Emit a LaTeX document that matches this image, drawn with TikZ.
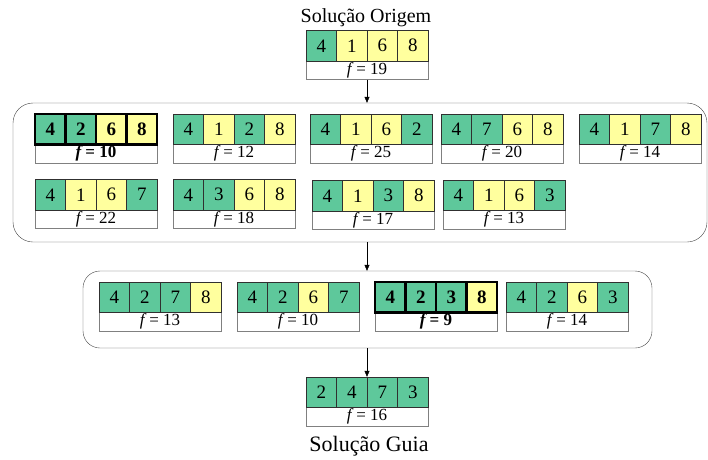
\documentclass[tikz,border=0pt]{standalone}
\usepackage{fontspec}
\setmainfont{Liberation Serif}
\usetikzlibrary{arrows.meta,positioning,calc}

\definecolor{verde}{HTML}{5EC89B}
\definecolor{amar}{HTML}{FFFF9E}
\definecolor{borda}{HTML}{303030}
\definecolor{cinza}{HTML}{808080}
\definecolor{darkgrey}{HTML}{444444}

\tikzset{
  cell/.style={
    rectangle, draw=borda, thin, minimum width=30.5pt, minimum height=30.5pt,
    inner sep=0pt, font=\fontsize{19}{21}\selectfont
  },
  fbox/.style={
    rectangle, draw=cinza, fill=white, minimum width=122pt,
    minimum height=19pt, inner sep=0pt, font=\fontsize{17}{19}\selectfont
  },
  plain/.style={},
  plain f/.style={},
  best/.style={
    line width=2.5pt, draw=black, font=\fontsize{19}{21}\selectfont\bfseries
  },
  best f/.style={font=\fontsize{17}{19}\selectfont\bfseries},
  group/.style={
    rectangle, draw=darkgrey, thin, inner sep=0pt
  },
  seta/.style={-{Triangle[length=6pt,width=5pt]}, thin, color=black},
  titulo/.style={font=\fontsize{20}{24}\selectfont, anchor=base},
}

% #1 style, #2 name, #3/#4 top-left corner, #5 value/colour list, #6 f value
\newcommand{\solucao}[6][plain]{%
  \node[fbox, #1 f] (#2-f) at ({#3+61}, {#4+39.5}) {\textit{f}\,= #6};
  \foreach \v/\c [count=\i] in {#5} {
    \node[cell, fill=\c, #1] (#2-\i) at ({#3+(\i-0.5)*30.5}, {#4+15.25}) {\v};
  }
}

\begin{document}
\begin{tikzpicture}[x=1pt, y=-1pt]
  \useasboundingbox (0,0) rectangle (708,459);

  %% Origin solution
  \node[titulo] (tit-orig) at (366,22) {Solução Origem};
  \solucao{orig}{306}{30.5}{4/verde,1/amar,6/amar,8/amar}{19}

  %% Neighbourhood
  \node[group, rounded corners=20pt, minimum width=694pt, minimum height=139pt]
    (viz) at (360,172.5) {};
  \solucao[best]{v1}{35}{114}{4/verde,2/verde,6/amar,8/amar}{10}
  \solucao{v2}{173}{114}{4/verde,1/amar,2/verde,8/amar}{12}
  \solucao{v3}{310}{114}{4/verde,1/amar,6/amar,2/verde}{25}
  \solucao{v4}{441}{114}{4/verde,7/verde,6/amar,8/amar}{20}
  \solucao{v5}{579}{114}{4/verde,1/amar,7/verde,8/amar}{14}
  \solucao{v6}{35}{179.5}{4/verde,1/amar,6/amar,7/verde}{22}
  \solucao{v7}{173}{179.5}{4/verde,3/verde,6/amar,8/amar}{18}
  \solucao{v8}{312}{180.5}{4/verde,1/amar,3/verde,8/amar}{17}
  \solucao{v9}{443}{180}{4/verde,1/amar,6/amar,3/verde}{13}

  %% Next step
  \node[group, rounded corners=17pt, minimum width=569pt, minimum height=77pt]
    (sel) at (367.5,309.5) {};
  \solucao{s1}{99}{282}{4/verde,2/verde,7/verde,8/amar}{13}
  \solucao{s2}{237}{282}{4/verde,2/verde,6/amar,7/verde}{10}
  \solucao[best]{s3}{375}{282}{4/verde,2/verde,3/verde,8/amar}{9}
  \solucao{s4}{506}{282}{4/verde,2/verde,6/amar,3/verde}{14}

  %% Guiding solution
  \solucao{guia}{306}{377}{2/verde,4/verde,7/verde,3/verde}{16}
  \node[titulo, font=\fontsize{22}{26}\selectfont] (tit-guia) at (369,451.5) {Solução Guia};

  %% Connectors
  \draw[seta] (orig-f.south) -- (orig-f.south |- viz.north);
  \draw[seta] (orig-f.south |- viz.south) -- (orig-f.south |- sel.north);
  \draw[seta] (guia-f.north |- sel.south) -- (guia-f.north |- guia-1.north);
\end{tikzpicture}
\end{document}
